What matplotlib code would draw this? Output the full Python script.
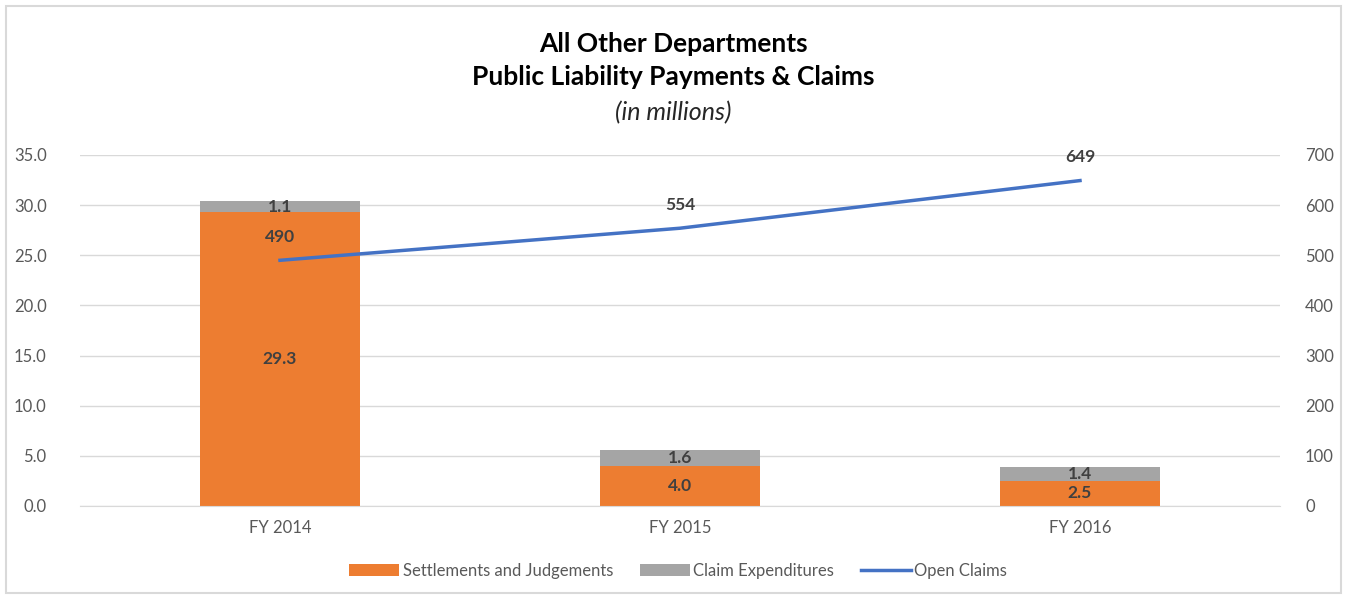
import matplotlib.pyplot as plt
import numpy as np
from matplotlib.patches import Rectangle

plt.rcParams['font.family'] = ['Lato', 'DejaVu Sans']

# values in millions, open claims as a count
years = ['FY 2014', 'FY 2015', 'FY 2016']
settlements = [29.3, 4.0, 2.5]
claim_exp = [1.1, 1.6, 1.4]
open_claims = [490, 554, 649]

ORANGE = '#ED7D31'
GRAY = '#A5A5A5'
BLUE = '#4472C4'
TXT = '#595959'
LBL = '#404040'

fig = plt.figure(figsize=(13.47, 5.96), dpi=100)
fig.patches.append(Rectangle((6 / 1347, 3 / 596), 1335 / 1347, 587 / 596,
                             transform=fig.transFigure, fill=False,
                             edgecolor='#D9D9D9', lw=1.5))

ax = fig.add_axes([80 / 1347, 90 / 596, 1200 / 1347, 351 / 596])
ax2 = ax.twinx()

x = np.arange(len(years))
b1 = ax.bar(x, settlements, width=0.4, color=ORANGE, label='Settlements and Judgements', zorder=2)
b2 = ax.bar(x, claim_exp, width=0.4, bottom=settlements, color=GRAY, label='Claim Expenditures', zorder=2)

for xi, s, c in zip(x, settlements, claim_exp):
    ax.text(xi, s / 2, f'{s:.1f}', ha='center', va='center', fontsize=12.5,
            fontweight='bold', color=LBL, zorder=3)
    ax.text(xi, s + c / 2, f'{c:.1f}', ha='center', va='center', fontsize=12.5,
            fontweight='bold', color=LBL, zorder=3)

ln, = ax2.plot(x, open_claims, color=BLUE, lw=2.5, label='Open Claims', zorder=4)
for xi, v in zip(x, open_claims):
    ax2.annotate(f'{v}', (xi, v), xytext=(0, 17), textcoords='offset points',
                 ha='center', va='center', fontsize=12.5, fontweight='bold', color=LBL)

ax.set_xlim(-0.5, 2.5)
ax.set_ylim(0, 35)
ax.set_yticks(np.arange(0, 35.1, 5))
ax.set_yticklabels([f'{v:.1f}' for v in np.arange(0, 35.1, 5)])
ax2.set_ylim(0, 700)
ax2.set_yticks(np.arange(0, 701, 100))
ax.set_xticks(x)
ax.set_xticklabels(years)

ax.grid(axis='y', color='#D9D9D9', lw=1, zorder=0)
ax.set_axisbelow(True)
for a in (ax, ax2):
    for sp in a.spines.values():
        sp.set_visible(False)
    a.tick_params(length=0, labelsize=12, labelcolor=TXT)
ax.spines['bottom'].set_visible(True)
ax.spines['bottom'].set_color('#D9D9D9')
ax.tick_params(axis='y', pad=24)
ax2.tick_params(axis='y', pad=18)
ax.tick_params(axis='x', pad=10)

fig.text(0.5, 1 - 44 / 596, 'All Other Departments', ha='center', va='center',
         fontsize=19, fontweight='bold', color='black')
fig.text(0.5, 1 - 77 / 596, 'Public Liability Payments & Claims', ha='center', va='center',
         fontsize=19, fontweight='bold', color='black')
fig.text(0.5, 1 - 113 / 596, '(in millions)', ha='center', va='center',
         fontsize=18, fontstyle='italic', color='#262626')

fig.legend(handles=[b1, b2, ln], loc='center', bbox_to_anchor=(678 / 1347, 1 - 571 / 596),
           ncol=3, frameon=False, fontsize=12, labelcolor=TXT,
           handlelength=3.0, handletextpad=0.2, columnspacing=1.6)

fig.savefig('out.png', dpi=100)
